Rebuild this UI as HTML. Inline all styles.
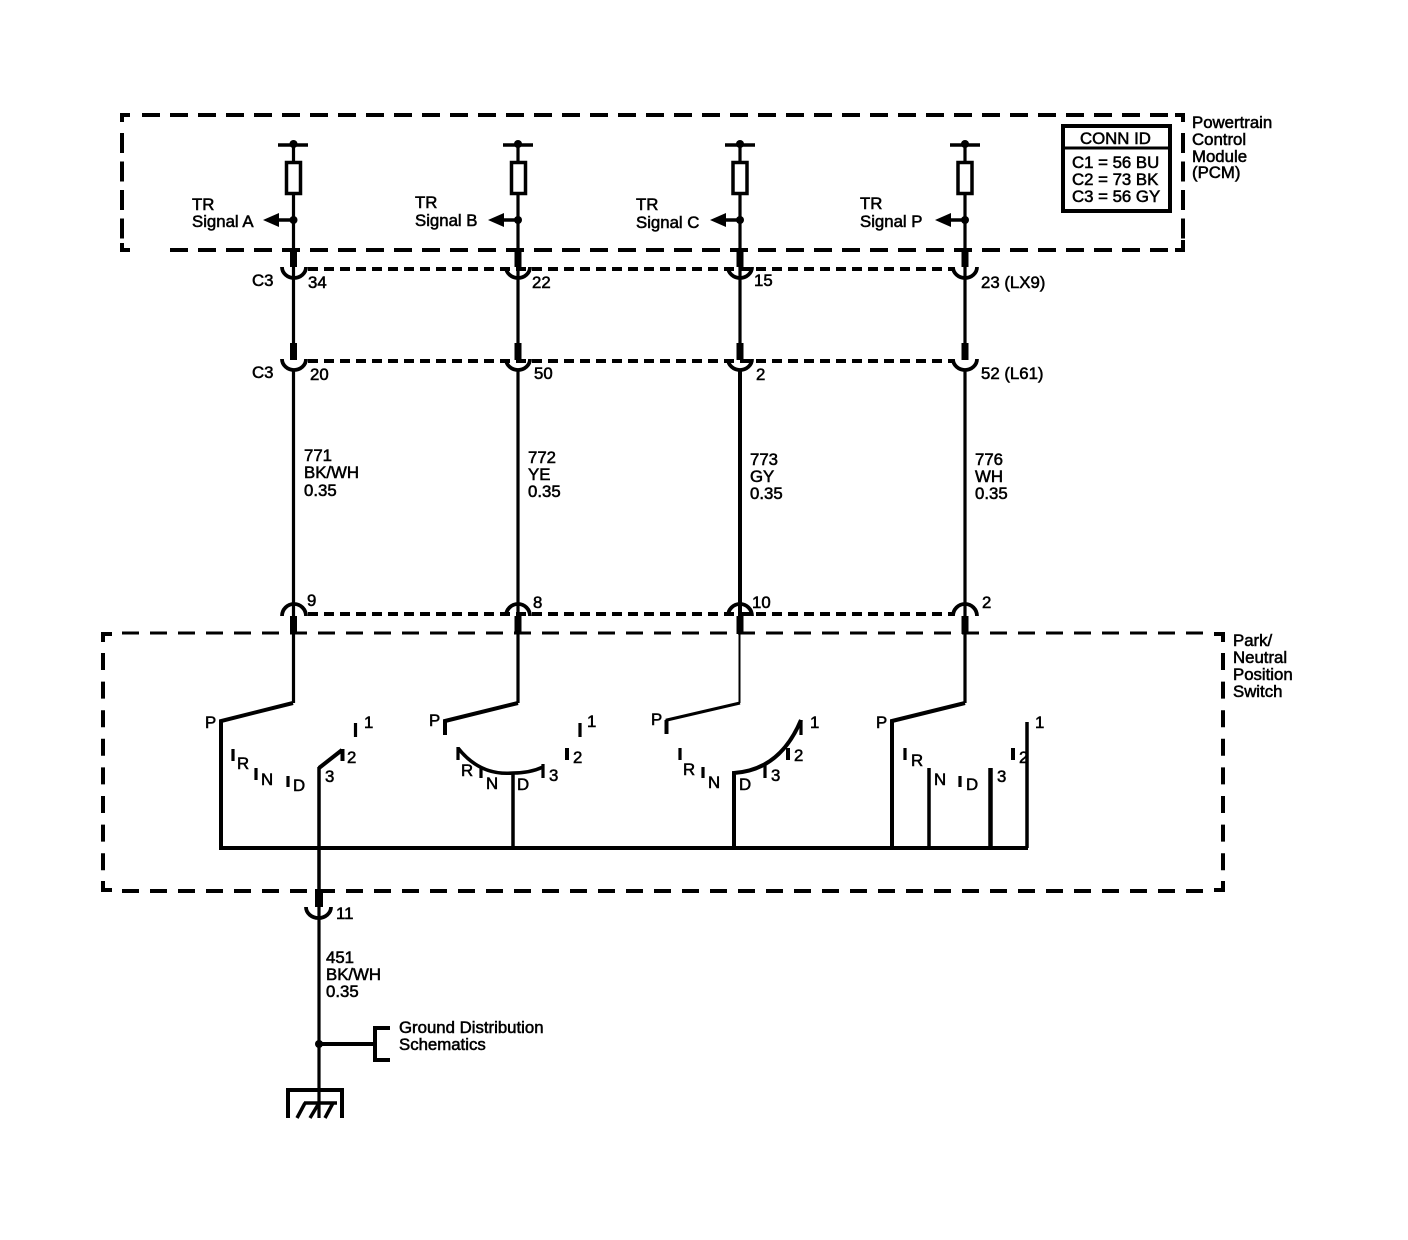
<!DOCTYPE html>
<html><head><meta charset="utf-8"><style>
html,body{margin:0;padding:0;background:#fff}
svg{display:block}
text{font-family:"Liberation Sans",sans-serif;font-size:16.8px;fill:#000;stroke:#000;stroke-width:.55}
</style></head><body>
<svg width="1408" height="1240" viewBox="0 0 1408 1240" xmlns="http://www.w3.org/2000/svg">
<g fill="none" stroke="#000" stroke-linejoin="miter">
<!-- PCM box -->
<g stroke-width="4">
<path d="M142 115H1170" stroke-dasharray="18 10"/>
<path d="M170 250H1170" stroke-dasharray="18 10"/>
<path d="M122 133V240" stroke-dasharray="20 8.5"/>
<path d="M1183 133V240" stroke-dasharray="20 8.5"/>
<path d="M130 115H122V122M130 250H122V243M1175 115H1183V122M1175 250H1183V240"/>
</g>
<!-- Switch box -->
<path d="M122 633H1212" stroke-width="3" stroke-dasharray="17 11"/>
<path d="M122 891H1212" stroke-width="4" stroke-dasharray="17 11"/>
<g stroke-width="4">
<path d="M103 653V875" stroke-dasharray="17 11.6"/>
<path d="M1223 653V875" stroke-dasharray="17 11.6"/>
<path d="M112 634H103V642M112 890H103V881M1214 634H1223V642M1214 890H1223V881"/>
</g>
<!-- Connector dash lines -->
<g stroke-width="4" stroke-dasharray="10 6">
<path d="M308 269H952"/>
<path d="M308 361H952"/>
<path d="M308 614H952"/>
</g>
<!-- Wires -->
<g stroke-width="3.2">
<path d="M293.5 145V345M293.5 370V620M293.500 630V703"/>
<path d="M518 145V345M518 370V620M518 630V703"/>
<path d="M740 145V345"/>
<path d="M965 145V345M965 370V620M965 630V703"/>
</g>
<path d="M740 370V620" stroke-width="4"/>
<path d="M739.5 630V703" stroke-width="2"/>
<!-- top T bars -->
<g stroke-width="3.5"><path d="M278 145H308M503 145H533M725 145H755M950 145H980"/></g>
<!-- resistors -->
<g stroke-width="3.5" fill="#fff">
<rect x="286.500" y="162.500" width="14" height="31"/>
<rect x="511.500" y="162.500" width="14" height="31"/>
<rect x="733" y="162.500" width="14" height="31"/>
<rect x="958" y="162.500" width="14" height="31"/>
</g>
<!-- arrows stems -->
<g stroke-width="3.5"><path d="M275 220H293M500 220H518M722 220H740M947 220H965"/></g>
<!-- cups -->
<g stroke-width="3.8">
<path d="M282 267A12 11 0 0 0 306 267M506 267A12 11 0 0 0 530 267M728 267A12 11 0 0 0 752 267M953 267A12 11 0 0 0 977 267"/>
<path d="M282 359A12 11 0 0 0 306 359M506 359A12 11 0 0 0 530 359M728 359A12 11 0 0 0 752 359M953 359A12 11 0 0 0 977 359"/>
<path d="M282 616A12 12 0 0 1 306 616M506 616A12 12 0 0 1 530 616M728 616A12 12 0 0 1 752 616M953 616A12 12 0 0 1 977 616"/>
<path d="M306 907A12.500 11 0 0 0 331 907"/>
</g>
<!-- CONN ID -->
<rect x="1063" y="126" width="107" height="85" stroke-width="4"/>
<path d="M1063 148H1170" stroke-width="3"/>
<!-- Switch 1 -->
<g stroke-width="4">
<path d="M293 703L221 721V848"/>
<path d="M219 848H1028" />
<path d="M342 750L319 768"/>
</g>
<path d="M319 767V890" stroke-width="3.500"/>
<path d="M319 890V1118" stroke-width="3.200"/>
<!-- Switch 2-4 -->
<g stroke-width="4">
<path d="M518 703L445 721V735"/>
<path d="M740 703L667 720V734" stroke-width="3"/>
<path d="M666.500 720V734"/>
<path d="M965 703L892 721V848"/>
<path d="M458 748Q480 776 513 773Q530 773 543 767" stroke-width="3.500"/>
<path d="M734 848V773Q780 770 801 720"/>
<path d="M990.500 768V848" stroke-width="4.500"/>
<path d="M929 768V848" stroke-width="3.500"/>
<path d="M1027 722V848" stroke-width="3.500"/>
<path d="M513 773V848" stroke-width="3.500"/>
</g>
<!-- Ticks -->
<g stroke-width="3.200">
<path d="M355.500 723V737M580 723V737M801 720V735"/>
<path d="M233 749V761M256 768V780M288 776V787"/>
<path d="M458 747V760M481 768V778M543 764V778"/>
<path d="M680 748V760M703 767V778M765 765V778"/>
<path d="M905 748V760M960 776V787"/>
</g>
<g stroke-width="4">
<path d="M342.500 749V761M567 748V760M788 748V760M1013 748V760"/>
</g>
<!-- Ground -->
<path d="M319 1044H375" stroke-width="4"/>
<path d="M390 1028H375V1060H390" stroke-width="4"/>
<path d="M288 1118V1090H342V1118" stroke-width="4"/>
<path d="M304 1103H337" stroke-width="3.500"/>
<path d="M305 1103L297 1118M319 1103L310 1118M333 1103L325 1118" stroke-width="3.500"/>
</g>
<!-- filled bits -->
<g fill="#000">
<circle cx="293.500" cy="144" r="4"/><circle cx="518" cy="144" r="4"/><circle cx="740" cy="144" r="4"/><circle cx="965" cy="144" r="4"/>
<circle cx="293.500" cy="220" r="4"/><circle cx="518" cy="220" r="4"/><circle cx="740" cy="220" r="4"/><circle cx="965" cy="220" r="4"/>
<path d="M263 220L279 213V227Z"/><path d="M488 220L504 213V227Z"/><path d="M710 220L726 213V227Z"/><path d="M935 220L951 213V227Z"/>
<rect x="290" y="250" width="7" height="17"/><rect x="514.500" y="250" width="7" height="17"/><rect x="736.500" y="250" width="7" height="17"/><rect x="961.500" y="250" width="7" height="17"/>
<rect x="290" y="343" width="7" height="17"/><rect x="514.500" y="343" width="7" height="17"/><rect x="736.500" y="343" width="7" height="17"/><rect x="961.500" y="343" width="7" height="17"/>
<rect x="290" y="616" width="7" height="18"/><rect x="514.500" y="616" width="7" height="18"/><rect x="736.500" y="616" width="7" height="18"/><rect x="961.500" y="616" width="7" height="18"/>
<rect x="315" y="889" width="8" height="18"/>
<circle cx="319" cy="1044" r="4"/>
</g>
<!-- Labels top -->
<text x="192" y="210">TR</text><text x="192" y="227">Signal A</text>
<text x="415" y="208">TR</text><text x="415" y="226">Signal B</text>
<text x="636" y="210">TR</text><text x="636" y="228">Signal C</text>
<text x="860" y="209">TR</text><text x="860" y="227">Signal P</text>
<text x="1192" y="128">Powertrain</text><text x="1192" y="145">Control</text><text x="1192" y="162">Module</text><text x="1192" y="178">(PCM)</text>
<text x="1080" y="144">CONN ID</text>
<text x="1072" y="168">C1 = 56 BU</text><text x="1072" y="185">C2 = 73 BK</text><text x="1072" y="202">C3 = 56 GY</text>
<text x="252" y="286">C3</text><text x="308" y="288">34</text><text x="532" y="288">22</text><text x="754" y="286">15</text><text x="981" y="288">23 (LX9)</text>
<text x="252" y="378">C3</text><text x="310" y="380">20</text><text x="534" y="379">50</text><text x="756" y="380">2</text><text x="981" y="379">52 (L61)</text>
<text x="304" y="461">771</text><text x="304" y="478">BK/WH</text><text x="304" y="496">0.35</text>
<text x="528" y="463">772</text><text x="528" y="480">YE</text><text x="528" y="497">0.35</text>
<text x="750" y="465">773</text><text x="750" y="482">GY</text><text x="750" y="499">0.35</text>
<text x="975" y="465">776</text><text x="975" y="482">WH</text><text x="975" y="499">0.35</text>
<text x="307" y="606">9</text><text x="533" y="608">8</text><text x="752" y="608">10</text><text x="982" y="608">2</text>
<text x="1233" y="646">Park/</text><text x="1233" y="663">Neutral</text><text x="1233" y="680">Position</text><text x="1233" y="697">Switch</text>
<!-- Switch labels -->
<text x="205" y="728">P</text><text x="364" y="728">1</text><text x="347" y="763">2</text><text x="325" y="782">3</text><text x="237" y="769">R</text><text x="261" y="785">N</text><text x="293" y="791">D</text>
<text x="429" y="726">P</text><text x="587" y="727">1</text><text x="573" y="763">2</text><text x="549" y="781">3</text><text x="461" y="776">R</text><text x="486" y="789">N</text><text x="517" y="790">D</text>
<text x="651" y="725">P</text><text x="810" y="728">1</text><text x="794" y="761">2</text><text x="771" y="781">3</text><text x="683" y="775">R</text><text x="708" y="788">N</text><text x="739" y="790">D</text>
<text x="876" y="728">P</text><text x="1035" y="728">1</text><text x="1019" y="763">2</text><text x="997" y="782">3</text><text x="911" y="766">R</text><text x="934" y="785">N</text><text x="966" y="790">D</text>
<!-- Lower labels -->
<text x="336" y="919">11</text>
<text x="326" y="963">451</text><text x="326" y="980">BK/WH</text><text x="326" y="997">0.35</text>
<text x="399" y="1033">Ground Distribution</text><text x="399" y="1050">Schematics</text>
</svg>
</body></html>
